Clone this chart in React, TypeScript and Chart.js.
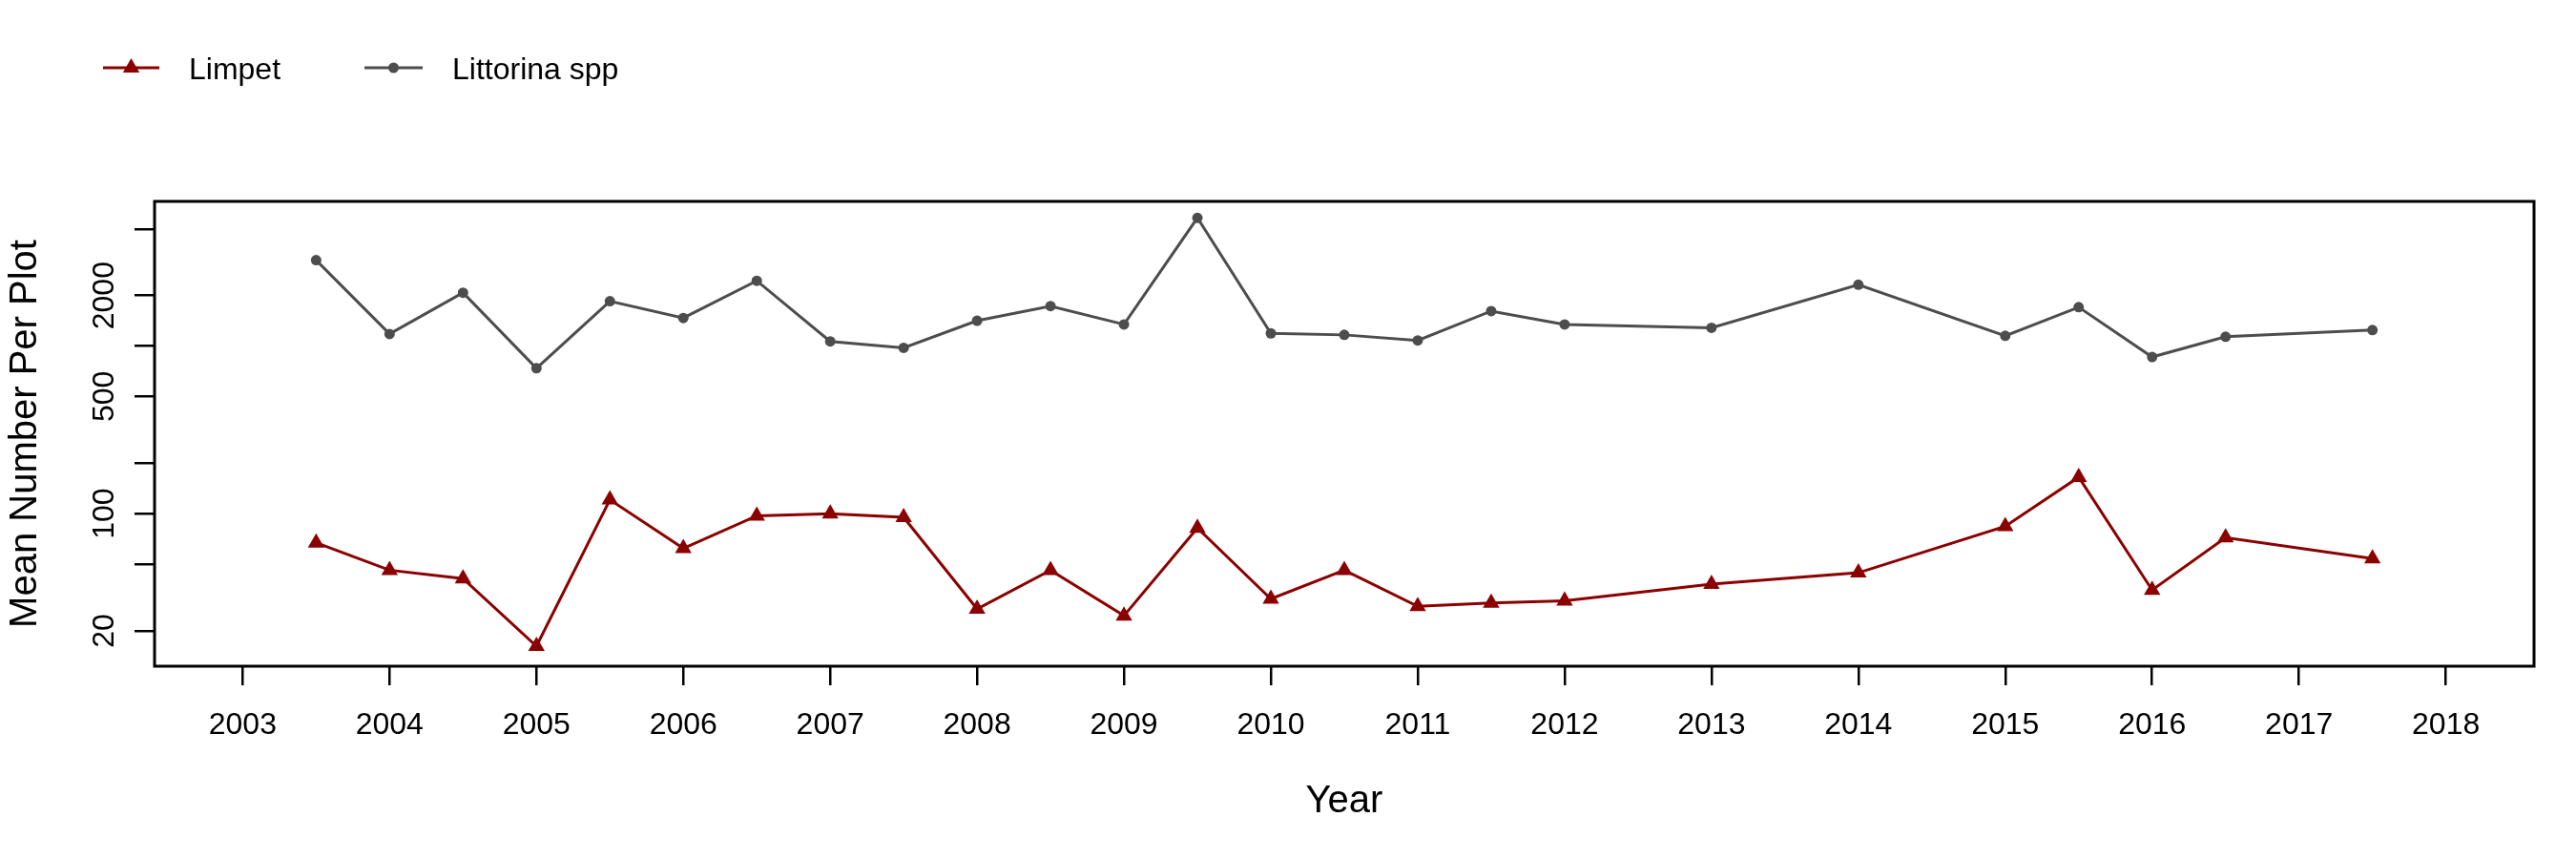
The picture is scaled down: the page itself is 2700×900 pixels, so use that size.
import React, { useEffect, useRef } from 'react';
import { Chart, registerables } from 'chart.js';

Chart.register(...registerables);

const FONT = '"Liberation Sans", Arial, sans-serif';

const years = [2003.5, 2004, 2004.5, 2005, 2005.5, 2006, 2006.5, 2007, 2007.5, 2008, 2008.5, 2009, 2009.5, 2010, 2010.5, 2011, 2011.5, 2012, 2013, 2014, 2015, 2015.5, 2016, 2016.5, 2017.5];
const limpet = [67, 46, 41, 16.2, 121, 62, 97, 100, 95, 27, 46, 24.6, 82, 31, 46, 28, 29.3, 30.2, 38, 44.4, 84, 165, 35, 72, 54];
const littorina = [3250, 1180, 2080, 737, 1850, 1470, 2450, 1065, 975, 1415, 1730, 1345, 5810, 1190, 1165, 1080, 1615, 1345, 1285, 2320, 1150, 1705, 860, 1135, 1245];

const xTicks = [2003, 2004, 2005, 2006, 2007, 2008, 2009, 2010, 2011, 2012, 2013, 2014, 2015, 2016, 2017, 2018];
const yTicks = [20, 50, 100, 200, 500, 1000, 2000, 5000];
const yTickLabels = [20, 100, 500, 2000];

const seriesNames = ['Limpet', 'Littorina spp'];
const seriesColors = ['#8B0000', '#4D4D4D'];

const decor = {
  id: 'decor',
  afterDraw(chart: any) {
    const { ctx, chartArea: a, scales } = chart;
    ctx.save();
    // frame
    ctx.strokeStyle = '#000';
    ctx.lineWidth = 3;
    ctx.strokeRect(a.left, a.top, a.right - a.left, a.bottom - a.top);

    ctx.fillStyle = '#000';
    ctx.font = `32px ${FONT}`;
    // x tick labels
    ctx.textAlign = 'center';
    ctx.textBaseline = 'alphabetic';
    for (const v of xTicks) {
      const px = scales.x.getPixelForValue(v);
      ctx.fillText(String(v), px, 769);
    }
    // y tick labels (rotated)
    for (const v of yTickLabels) {
      const py = scales.y.getPixelForValue(v);
      ctx.save();
      ctx.translate(119, py);
      ctx.rotate(-Math.PI / 2);
      ctx.fillText(String(v), 0, 0);
      ctx.restore();
    }
    // axis titles
    ctx.font = `40px ${FONT}`;
    ctx.fillText('Year', (a.left + a.right) / 2, 851);
    ctx.save();
    ctx.translate(38, (a.top + a.bottom) / 2);
    ctx.rotate(-Math.PI / 2);
    ctx.fillText('Mean Number Per Plot', 0, 0);
    ctx.restore();

    // legend
    const ly = 71;
    ctx.font = `32px ${FONT}`;
    ctx.textAlign = 'left';
    ctx.textBaseline = 'alphabetic';
    const items = [
      { x0: 108, x1: 167, tx: 198, style: 'triangle' },
      { x0: 382, x1: 443, tx: 474, style: 'circle' },
    ];
    items.forEach((it, i) => {
      ctx.strokeStyle = seriesColors[i];
      ctx.fillStyle = seriesColors[i];
      ctx.lineWidth = 3;
      ctx.beginPath();
      ctx.moveTo(it.x0, ly);
      ctx.lineTo(it.x1, ly);
      ctx.stroke();
      const cx = (it.x0 + it.x1) / 2;
      ctx.beginPath();
      if (it.style === 'triangle') {
        const r = 10;
        ctx.moveTo(cx, ly - r);
        ctx.lineTo(cx + r * Math.sin((2 * Math.PI) / 3), ly - r * Math.cos((2 * Math.PI) / 3));
        ctx.lineTo(cx + r * Math.sin((4 * Math.PI) / 3), ly - r * Math.cos((4 * Math.PI) / 3));
        ctx.closePath();
      } else {
        ctx.arc(cx, ly, 5.5, 0, Math.PI * 2);
      }
      ctx.fill();
      ctx.fillStyle = '#000';
      ctx.fillText(seriesNames[i], it.tx, ly + 11.5);
    });
    ctx.restore();
  },
};

export default function App() {
  const ref = useRef<HTMLCanvasElement | null>(null);
  useEffect(() => {
    if (!ref.current) return;
    const chart = new Chart(ref.current, {
      type: 'line',
      data: {
        datasets: [
          {
            label: seriesNames[0],
            data: years.map((x, i) => ({ x, y: limpet[i] })),
            borderColor: seriesColors[0],
            backgroundColor: seriesColors[0],
            borderWidth: 3,
            pointStyle: 'triangle',
            pointRadius: 10,
            pointBorderWidth: 0,
            pointBackgroundColor: seriesColors[0],
            tension: 0,
          },
          {
            label: seriesNames[1],
            data: years.map((x, i) => ({ x, y: littorina[i] })),
            borderColor: seriesColors[1],
            backgroundColor: seriesColors[1],
            borderWidth: 3,
            pointStyle: 'circle',
            pointRadius: 5.5,
            pointBorderWidth: 0,
            pointBackgroundColor: seriesColors[1],
            tension: 0,
          },
        ],
      },
      options: {
        responsive: false,
        animation: false,
        devicePixelRatio: 1,
        layout: { padding: { left: 0, top: 211, right: 44, bottom: 0 } },
        plugins: { legend: { display: false }, tooltip: { enabled: false }, title: { display: false } },
        scales: {
          x: {
            type: 'linear',
            min: 2002.4,
            max: 2018.6,
            afterBuildTicks: (s: any) => { s.ticks = xTicks.map((v) => ({ value: v })); },
            afterFit: (s: any) => { s.height = 202; },
            ticks: { display: false },
            grid: { drawOnChartArea: false, drawTicks: true, tickLength: 20, color: '#000', lineWidth: 2.5 },
            border: { display: false },
          },
          y: {
            type: 'logarithmic',
            min: 12.3,
            max: 7290,
            afterBuildTicks: (s: any) => { s.ticks = yTicks.map((v) => ({ value: v })); },
            afterFit: (s: any) => { s.width = 162; },
            ticks: { display: false },
            grid: { drawOnChartArea: false, drawTicks: true, tickLength: 21, color: '#000', lineWidth: 2.5 },
            border: { display: false },
          },
        },
      },
      plugins: [decor],
    });
    return () => chart.destroy();
  }, []);
  return (
    <canvas
      ref={ref}
      width={2700}
      height={900}
      style={{ position: 'absolute', left: 0, top: 0, width: 2700, height: 900, background: '#fff' }}
    />
  );
}
